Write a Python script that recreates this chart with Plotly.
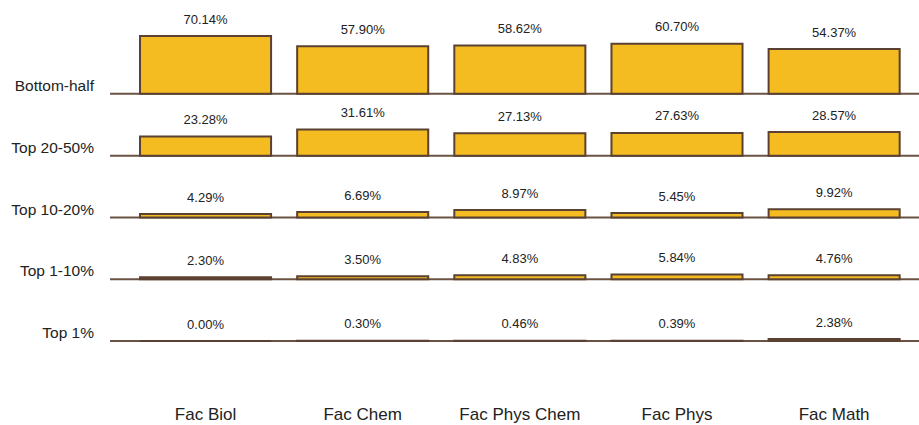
import plotly.graph_objects as go

faculties = ["Fac Biol", "Fac Chem", "Fac Phys Chem", "Fac Phys", "Fac Math"]
groups = ["Top 1%", "Top 1-10%", "Top 10-20%", "Top 20-50%", "Bottom-half"]
top1 = [0.00, 0.30, 0.46, 0.39, 2.38]
top1_10 = [2.30, 3.50, 4.83, 5.84, 4.76]
top10_20 = [4.29, 6.69, 8.97, 5.45, 9.92]
top20_50 = [23.28, 31.61, 27.13, 27.63, 28.57]
bottom_half = [70.14, 57.90, 58.62, 60.70, 54.37]
series = [top1, top1_10, top10_20, top20_50, bottom_half]

ROW_STEP = 75
LABEL_GAP = 19
FILL = "#F5BC22"
EDGE = "#5B4131"
BASE_LINE = "#6B5344"
TEXT = "#222222"

xs = list(range(len(faculties)))
fig = go.Figure()
shapes = []
for i, (name, vals) in enumerate(zip(groups, series)):
    base = i * ROW_STEP
    fig.add_trace(go.Bar(
        x=xs, y=vals, base=[base] * len(vals), width=0.834, name=name,
        marker=dict(color=FILL, line=dict(color=EDGE, width=2)),
        showlegend=False, hoverinfo="skip",
    ))
    fig.add_trace(go.Scatter(
        x=xs, y=[base + v + LABEL_GAP for v in vals], mode="text",
        text=[f"{v:.2f}%" for v in vals], textposition="middle center",
        textfont=dict(family="Liberation Sans, Arial", size=13, color=TEXT),
        showlegend=False, hoverinfo="skip", cliponaxis=False,
    ))
    shapes.append(dict(type="line", xref="paper", x0=0, x1=1, yref="y",
                       y0=base, y1=base, line=dict(color=BASE_LINE, width=2),
                       layer="below"))

fig.update_layout(
    width=919, height=425,
    margin=dict(l=110, r=0, t=0, b=23, autoexpand=False),
    paper_bgcolor="white", plot_bgcolor="white",
    barmode="overlay",
    shapes=shapes,
    font=dict(family="Liberation Sans, Arial", color=TEXT),
    xaxis=dict(range=[-0.608, 4.54], tickvals=xs, ticktext=faculties,
               showgrid=False, zeroline=False, showline=False, ticks="",
               automargin=False,
               tickfont=dict(size=17, color=TEXT)),
    yaxis=dict(range=[-74.0, 413.9],
               tickvals=[i * ROW_STEP + 10 for i in range(len(groups))],
               ticktext=groups, showgrid=False, zeroline=False, showline=False,
               ticks="", ticklabelstandoff=15, automargin=False,
               tickfont=dict(size=15.5, color=TEXT)),
)

fig.write_html("out.html",
               config={"displayModeBar": False},
               post_script="document.body.style.margin='0';document.body.style.overflow='hidden';")
